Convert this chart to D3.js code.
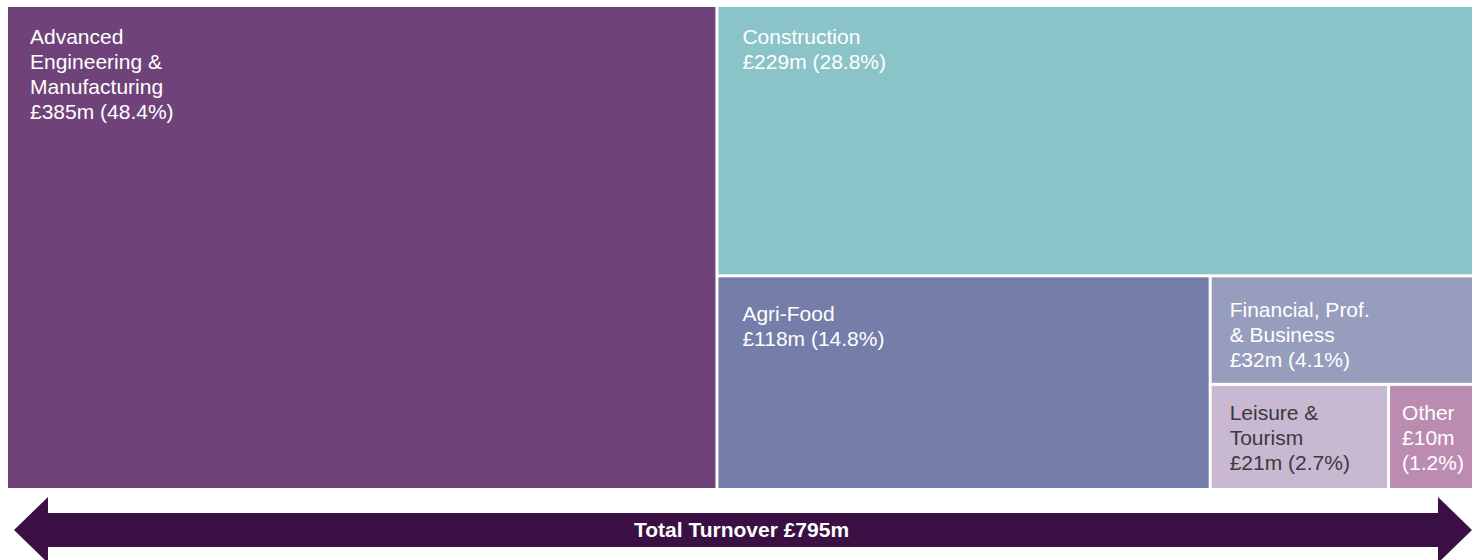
<!DOCTYPE html>
<html>
<head>
<meta charset="utf-8">
<script src="https://cdn.jsdelivr.net/npm/d3@7"></script>
<style>
  body { margin: 0; background: #fff; }
  svg { display: block; font-family: "Liberation Sans", Arial, sans-serif; }
</style>
</head>
<body>
<svg id="chart" width="1478" height="560"></svg>
<script>
// data
const sectors = ["Advanced Engineering & Manufacturing", "Construction", "Agri-Food",
  "Financial, Prof. & Business", "Leisure & Tourism", "Other"];
const turnover = [385, 229, 118, 32, 21, 10]; // £m
const shares = [48.4, 28.8, 14.8, 4.1, 2.7, 1.2]; // %
const nameLines = [
  ["Advanced", "Engineering &", "Manufacturing"],
  ["Construction"],
  ["Agri-Food"],
  ["Financial, Prof.", "& Business"],
  ["Leisure &", "Tourism"],
  ["Other"]
];
const totalTurnover = 795;

// styles
const fills = ["#6f437a", "#8bc4c8", "#747ea8", "#979dbd", "#c8b8d2", "#bb8cb0"];
const textFills = ["#fff", "#fff", "#fff", "#fff", "#3a3a3a", "#fff"];
const padX = [22, 24, 24, 18, 18, 12];
const padTop = [36.5, 37, 43.5, 39.5, 34.5, 34.5];
const splitValueLine = [false, false, false, false, false, true];

const svg = d3.select("#chart");
const box = { x0: 8, y0: 7, x1: 1472, y1: 488 };

// nest: each sector splits off from the remainder, alternating direction
const items = sectors.map((s, i) => ({ i, name: s, value: turnover[i] }));
const nested = items.slice(0, -1).reduceRight(
  (rest, d) => ({ name: "rest", children: [d, rest] }),
  items[items.length - 1]
);

const root = d3.hierarchy(nested)
  .sum(d => d.children ? 0 : d.value);

d3.treemap()
  .tile(d3.treemapSliceDice)
  .size([box.x1 - box.x0, box.y1 - box.y0])
  .paddingInner(3)
  .round(false)(root);

const leaves = root.leaves();

const g = svg.append("g").attr("transform", `translate(${box.x0},${box.y0})`);

const cell = g.selectAll("g.cell")
  .data(leaves)
  .join("g")
  .attr("class", "cell")
  .attr("transform", d => `translate(${d.x0},${d.y0})`);

cell.append("rect")
  .attr("width", d => d.x1 - d.x0)
  .attr("height", d => d.y1 - d.y0)
  .attr("fill", d => fills[d.data.i]);

cell.each(function (d) {
  const i = d.data.i;
  const lines = nameLines[i].slice();
  const val = `£${turnover[i]}m`;
  const pct = `(${shares[i].toFixed(1)}%)`;
  if (splitValueLine[i]) lines.push(val, pct);
  else lines.push(`${val} ${pct}`);

  const t = d3.select(this).append("text")
    .attr("fill", textFills[i])
    .attr("font-size", 21);
  t.selectAll("tspan")
    .data(lines)
    .join("tspan")
    .attr("x", padX[i])
    .attr("y", (l, k) => padTop[i] + k * 25)
    .text(l => l);
});

// total arrow
const xArrow = d3.scaleLinear().domain([0, totalTurnover]).range([14, 1472]);
const cy = 530, shaftH = 34, headH = 66, headL = 34;
const ax0 = xArrow(0), ax1 = xArrow(totalTurnover);
const arrowPts = [
  [ax0, cy],
  [ax0 + headL, cy - headH / 2],
  [ax0 + headL, cy - shaftH / 2],
  [ax1 - headL, cy - shaftH / 2],
  [ax1 - headL, cy - headH / 2],
  [ax1, cy],
  [ax1 - headL, cy + headH / 2],
  [ax1 - headL, cy + shaftH / 2],
  [ax0 + headL, cy + shaftH / 2],
  [ax0 + headL, cy + headH / 2]
];
svg.append("path")
  .attr("d", d3.line()(arrowPts) + "Z")
  .attr("fill", "#3a1045");

svg.append("text")
  .attr("x", (ax0 + ax1) / 2 - 1.5)
  .attr("y", cy)
  .attr("dy", "0.35em")
  .attr("text-anchor", "middle")
  .attr("font-weight", "bold")
  .attr("font-size", 21)
  .attr("fill", "#fff")
  .text(`Total Turnover £${totalTurnover}m`);
</script>
</body>
</html>
